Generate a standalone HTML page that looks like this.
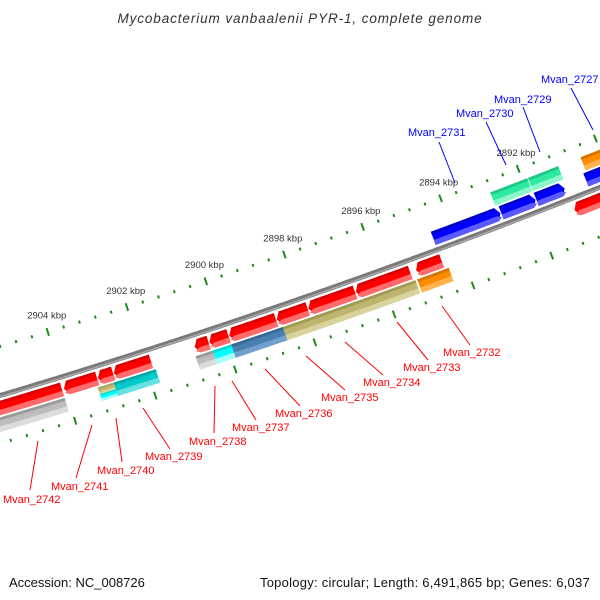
<!DOCTYPE html>
<html><head><meta charset="utf-8"><style>
html,body{margin:0;padding:0;background:#fff;}
svg{display:block;font-family:"Liberation Sans",sans-serif;}
</style></head><body>
<svg id="map" width="600" height="600" viewBox="0 0 600 600" xmlns="http://www.w3.org/2000/svg">
<rect width="600" height="600" fill="#fff"/>
<text x="300" y="23" text-anchor="middle" font-size="13.5" letter-spacing="0.9" font-style="italic" fill="#333">Mycobacterium vanbaalenii PYR-1, complete genome</text>
<text x="9" y="587" font-size="13" fill="#111">Accession: NC_008726</text>
<text x="590" y="587" text-anchor="end" font-size="13" letter-spacing="0.25" fill="#111">Topology: circular; Length: 6,491,865 bp; Genes: 6,037</text>
<g id="layer"></g>
</svg>
<script>
// ---- data (kbp) ----
const fwdNames  = ["Mvan_2742","Mvan_2741","Mvan_2740","Mvan_2739","Mvan_2738","Mvan_2737","Mvan_2736","Mvan_2735","Mvan_2734","Mvan_2733","Mvan_2732","Mvan_2728"];
const fwdStarts = [2904.08,2903.2,2902.8,2901.85,2900.4,2899.9,2898.7,2897.9,2896.7,2895.3,2894.5,2888.5];
const fwdEnds   = [2906.5,2904.03,2903.18,2902.78,2900.75,2900.38,2899.88,2898.68,2897.88,2896.68,2895.15,2891.1];
const cogFStarts = [2904.08,2902.85,2901.8,2900.37,2899.9,2898.6,2897.9,2896.75,2895.25,2894.4];
const cogFEnds   = [2906.5,2903.25,2902.85,2900.8,2900.37,2899.9,2898.6,2897.9,2896.75,2895.2];
const cogFCats   = ["gray","tan/cyan","dcyan","gray","cyan","steel","tan","tan","tan","orange"];
const revNames  = ["Mvan_2731","Mvan_2730","Mvan_2729","Mvan_2727"];
const revStarts = [2892.78,2891.88,2891.13,2888.5];
const revEnds   = [2894.5,2892.76,2891.86,2890.58];
const cogRStarts = [2891.88,2891.08,2888.5];
const cogREnds   = [2892.83,2891.86,2890.5];
const cogRCats   = ["green","green","orange"];
const tickStart = 2888.0, tickEnd = 2907.2, tickStep = 0.4;
const tickLabels = [2892,2894,2896,2898,2900,2902,2904];
// label anchors: [textX, textY, lineX1, lineY1, lineX2, lineY2]
const fwdLabelPos = [[3,503,38,441,30,490],[51,490,92,425,76,478],[97,474,116,418,122,462],[145,460,143,408,170,449],[189,445,215,386,214,433],[232,431,232,381,256,420],[275,417,265,369,300,406],[321,401,306,356,345,390],[363,386,345,342,383,375],[403,371,397,322,428,360],[443,356,442,306,470,345]];
const revLabelPos = [[408,136,439,142,455,183],[456,117,486,122,506,165],[494,103,523,107,540,152],[541,83,571,88,593,130]];

const CX=-2052, CY=-6485, R0=7180;
const COL={red:["#ff0000","#ff6a6a","#d80000"],blue:["#0000ff","#5a5aff","#0000c8"],
 green:["#2eeaa0","#8cf7cc","#20c888"],gray:["#bcbcbc","#dcdcdc","#999"],tan:["#bdb56d","#d8d29c","#a09a55"],
 cyan:["#00ffff","#a8ffff","#00d8d8"],dcyan:["#00caca","#66e0e0","#00a8a8"],steel:["#4a80b0","#72a0cc","#3a6890"],
 orange:["#ff8c00","#ffb24d","#d87400"]};
function ang(k){return (72.88+(k-2904)/3)*Math.PI/180;}
function P(r,k){const a=ang(k);return [CX+r*Math.cos(a),CY+r*Math.sin(a)];}
const layer=document.getElementById('layer');
const NS="http://www.w3.org/2000/svg";
function mk(tag,attrs){const e=document.createElementNS(NS,tag);for(const k in attrs)e.setAttribute(k,attrs[k]);layer.appendChild(e);return e;}
function arcPts(r,k1,k2){const n=Math.max(2,Math.ceil(Math.abs(k2-k1)/0.05));const pts=[];for(let i=0;i<=n;i++){pts.push(P(r,k1+(k2-k1)*i/n));}return pts;}
function band(r1,r2,k1,k2){const p=arcPts(r1,k1,k2).concat(arcPts(r2,k2,k1));return 'M'+p.map(q=>q[0].toFixed(2)+','+q[1].toFixed(2)).join('L')+'Z';}
function arrowPath(r1,r2,k1,k2,tipAtHigh){const al=0.1;const rm=(r1+r2)/2;let p;
 if(tipAtHigh){const kb=Math.max(k1,k2-al);p=arcPts(r1,k1,kb).concat([P(rm,k2)]).concat(arcPts(r2,kb,k1));}
 else{const kb=Math.min(k2,k1+al);p=[P(rm,k1)].concat(arcPts(r1,kb,k2)).concat(arcPts(r2,k2,kb));}
 return 'M'+p.map(q=>q[0].toFixed(2)+','+q[1].toFixed(2)).join('L')+'Z';}
function drawFeature(r1,r2,k1,k2,c,arrow,tipHigh,name){
 const h=r2-r1;
 const d=arrow?arrowPath(r1,r2,k1,k2,tipHigh):band(r1,r2,k1,k2);
 const g=mk('path',{d:d,fill:COL[c][0]});
 
 
 const cp=arrow?arrowPath(r1+h*0.62,r2,k1,k2,tipHigh):band(r1+h*0.62,r2,k1,k2);
 const l=mk('path',{d:cp,fill:COL[c][1]});
 
 
 const dk=band(r1,r1+h*0.2,arrow&&!tipHigh?k1+0.1:k1,arrow&&tipHigh?k2-0.1:k2);
 const t=mk('path',{d:dk,fill:COL[c][2]});
 
 
}
// backbone
const bb=arcPts(R0,2887,2908);
const bbd='M'+bb.map(q=>q[0].toFixed(2)+','+q[1].toFixed(2)).join('L');
const b1=mk('path',{d:bbd,stroke:'#7a7a7a','stroke-width':5,fill:'none'});


const b2=mk('path',{d:bbd,stroke:'#a8a8a8','stroke-width':1.5,fill:'none',transform:'translate(0,1.2)'});


// ticks
function drawTicks(rBase,ringName){
 for(let k=tickStart;k<=tickEnd+1e-6;k+=tickStep){
  const kk=Math.round(k*10)/10;
  const major=Math.abs(kk/2-Math.round(kk/2))<1e-6;
  const len=major?8:3;
  const a=P(rBase-len/2,kk),b=P(rBase+len/2,kk);
  const t=mk('line',{x1:a[0],y1:a[1],x2:b[0],y2:b[1],stroke:'#1a8a1a','stroke-width':2});
  
  
 }
}
drawTicks(7133,'inner-ring');
drawTicks(7226,'outer-ring');
tickLabels.forEach(k=>{const p=P(7116,k);
 const t=mk('text',{x:p[0]+4,y:p[1]+3,'text-anchor':'middle','font-size':9.5,fill:'#333'});
 t.textContent=k+' kbp';
 
 });
// forward genes (outer)
fwdNames.forEach((n,i)=>drawFeature(7185,7199,fwdStarts[i],fwdEnds[i],'red',true,true,'gene-'+n.toLowerCase().replace('_','-')));
cogFStarts.forEach((s,i)=>{const c=cogFCats[i];
 if(c==='tan/cyan'){drawFeature(7201,7208,s,cogFEnds[i],'tan',false,false,'cog-fwd-'+i+'-a');drawFeature(7208,7215,s,cogFEnds[i],'cyan',false,false,'cog-fwd-'+i+'-b');}
 else drawFeature(7201,7215,s,cogFEnds[i],c,false,false,'cog-fwd-'+i);});
// reverse genes (inner)
revNames.forEach((n,i)=>drawFeature(7161,7175,revStarts[i],revEnds[i],'blue',true,false,'gene-'+n.toLowerCase().replace('_','-')));
cogRStarts.forEach((s,i)=>drawFeature(7145,7159,s,cogREnds[i],cogRCats[i],false,false,'cog-rev-'+i));
// labels
function lab(names,pos,color,pre){names.forEach((n,i)=>{if(!pos[i])return;const q=pos[i];
 const l=mk('line',{x1:q[2],y1:q[3],x2:q[4],y2:q[5],stroke:color,'stroke-width':1});
 
 
 const t=mk('text',{x:q[0],y:q[1],'font-size':11,fill:color});
 t.textContent=n;
 
 });}
lab(fwdNames,fwdLabelPos,'#ff0000','fwd');
lab(revNames,revLabelPos,'#0000ff','rev');
</script>
</body></html>
